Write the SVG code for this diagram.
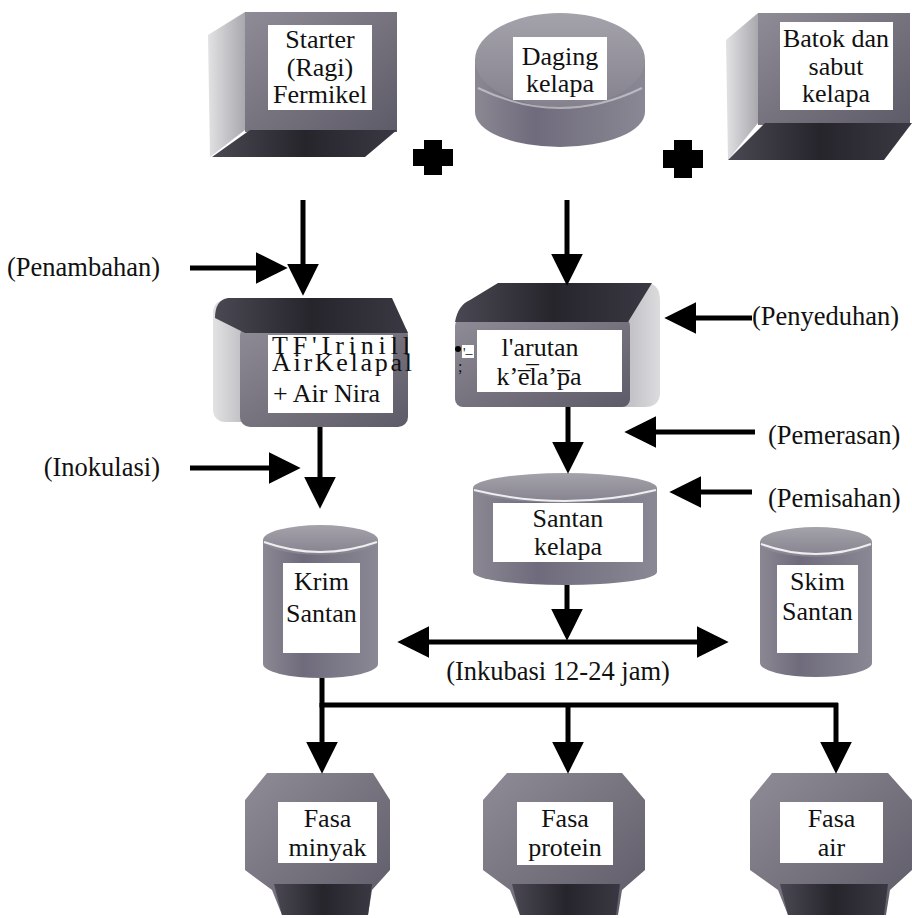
<svg xmlns="http://www.w3.org/2000/svg" width="912" height="918" viewBox="0 0 912 918" font-family="'Liberation Serif', serif">
<defs>
<linearGradient id="gFrame" x1="0" y1="0" x2="1" y2="1">
<stop offset="0" stop-color="#8f8c98"/><stop offset="0.5" stop-color="#76737f"/><stop offset="1" stop-color="#5e5b68"/>
</linearGradient>
<linearGradient id="gSide" x1="0" y1="0" x2="1" y2="0">
<stop offset="0" stop-color="#e2e2e4"/><stop offset="1" stop-color="#a9a8ae"/>
</linearGradient>
<linearGradient id="gSideR" x1="0" y1="0" x2="1" y2="0">
<stop offset="0" stop-color="#a9a8ae"/><stop offset="1" stop-color="#dcdcdf"/>
</linearGradient>
<linearGradient id="gDark" x1="0" y1="0" x2="1" y2="0">
<stop offset="0" stop-color="#4a4852"/><stop offset="0.5" stop-color="#26252c"/><stop offset="1" stop-color="#3a3842"/>
</linearGradient>
<linearGradient id="gCyl" x1="0" y1="0" x2="1" y2="0">
<stop offset="0" stop-color="#8b8893"/><stop offset="0.35" stop-color="#6f6b7c"/><stop offset="1" stop-color="#8a8894"/>
</linearGradient>
<linearGradient id="gTop" x1="0" y1="0" x2="0" y2="1">
<stop offset="0" stop-color="#a4a2aa"/><stop offset="1" stop-color="#85828e"/>
</linearGradient>
<marker id="ah" markerUnits="userSpaceOnUse" markerWidth="32" markerHeight="32" viewBox="0 0 30 30" refX="20" refY="15" orient="auto-start-reverse">
<path d="M0,0 L30,15 L0,30 Z" fill="#000"/>
</marker>
<style>
text{font-family:'Liberation Serif','Times New Roman',serif;font-size:26px;fill:#111;}
.c{text-anchor:middle;}
.e{text-anchor:end;}
.lbl{font-size:26.5px;}
.win{fill:#fff;}
.frame{fill:url(#gFrame);}
.side{fill:url(#gSide);}
.sider{fill:url(#gSideR);}
.dark{fill:url(#gDark);}
.cyl{fill:url(#gCyl);}
.ctop{fill:url(#gTop);}
.rim{fill:none;stroke:#eeeef0;stroke-width:2;}
.ln{fill:none;stroke:#000;stroke-width:5;}
.arr{fill:none;stroke:#000;stroke-width:5;marker-end:url(#ah);}
.dbl{fill:none;stroke:#000;stroke-width:5;marker-end:url(#ah);marker-start:url(#ah);}
.plus{fill:#000;}
</style>
</defs>
<rect width="912" height="918" fill="#fff"/>

<g id="starter">
<path class="side" d="M245,12 L208,35 L210,157 L245,130 Z"/>
<rect class="frame" x="245" y="12" width="152" height="120"/>
<path class="dark" d="M250,130 L397,130 L365,157 L212,157 Z"/>
<rect class="win" x="268" y="25" width="104" height="85"/>
<text class="c" x="320" y="48">Starter</text>
<text class="c" x="320" y="76">(Ragi)</text>
<text class="c" x="320" y="103">Fermikel</text>
</g>

<g id="daging">
<ellipse class="cyl" cx="560" cy="112" rx="85" ry="35"/>
<rect class="cyl" x="475" y="60" width="170" height="52"/>
<ellipse class="ctop" cx="560" cy="60" rx="85" ry="47"/>
<path class="rim" d="M478,88 Q560,128 642,88" stroke-opacity="0.5"/>
<rect class="win" x="513" y="37" width="94" height="63"/>
<text class="c" x="560" y="65">Daging</text>
<text class="c" x="560" y="92">kelapa</text>
</g>

<g id="batok">
<path class="side" d="M758,13 L726,40 L728,160 L758,123 Z"/>
<rect class="frame" x="758" y="13" width="152" height="112"/>
<path class="dark" d="M765,123 L912,123 L884,160 L728,160 Z"/>
<rect class="win" x="780" y="22" width="113" height="88"/>
<text class="c" x="836" y="47">Batok dan</text>
<text class="c" x="836" y="75">sabut</text>
<text class="c" x="836" y="102">kelapa</text>
</g>

<g id="plus1"><path class="plus" d="M424,140 H442 V149 H453 V166 H442 V175 H424 V166 H413 V149 H424 Z"/></g>
<g id="plus2"><path class="plus" d="M674,140 H692 V150 H703 V168 H692 V178 H674 V168 H663 V150 H674 Z"/></g>

<g id="airkelapa">
<rect class="side" x="213" y="300" width="50" height="122" rx="12"/>
<rect class="frame" x="240" y="325" width="168" height="102" rx="10"/>
<path class="dark" d="M228,298 L392,298 L408,333 L245,333 L215,318 Q215,300 228,298 Z"/>
<rect class="win" x="268" y="335" width="125" height="78"/>
<text x="272" y="354" textLength="138" lengthAdjust="spacing">TF'Irinill</text>
<text x="272" y="371" textLength="140" lengthAdjust="spacing">AirKelapal</text>
<text x="273" y="402">+ Air Nira</text>
</g>

<g id="larutan">
<path class="sider" d="M600,283 L648,283 Q660,285 660,300 L660,395 Q658,407 645,407 L610,407 Z"/>
<rect class="frame" x="455" y="318" width="175" height="89" rx="8"/>
<path class="dark" d="M498,283 L652,283 L628,322 L455,322 Q458,305 470,300 Z"/>
<rect class="win" x="477" y="330" width="145" height="62"/>
<text class="c" x="540" y="356">l'arutan</text>
<text class="c" x="539" y="385">k’e̅l̅a’p̅a</text>
<circle cx="458" cy="349" r="3" fill="#000"/>
<rect class="win" x="462" y="345" width="12" height="13"/>
<text x="463" y="358" style="font-size:14px">'–</text>
<text x="458" y="372" style="font-size:16px">;</text>
</g>

<g id="santankelapa">
<ellipse class="cyl" cx="565" cy="572" rx="92" ry="13"/>
<rect class="cyl" x="473" y="488" width="184" height="84"/>
<ellipse class="ctop" cx="565" cy="488" rx="92" ry="15"/>
<path class="rim" d="M474,490 Q565,512 656,490"/>
<rect class="win" x="493" y="503" width="150" height="59"/>
<text class="c" x="568" y="527">Santan</text>
<text class="c" x="568" y="555">kelapa</text>
</g>

<g id="krimsantan">
<ellipse class="cyl" cx="320.5" cy="664" rx="57.5" ry="14"/>
<rect class="cyl" x="263" y="540" width="115" height="124"/>
<ellipse class="ctop" cx="320.5" cy="540" rx="57.5" ry="15"/>
<path class="rim" d="M264,542 Q320,562 377,542"/>
<rect class="win" x="283" y="563" width="77" height="90"/>
<text class="c" x="321.5" y="590">Krim</text>
<text class="c" x="321.5" y="622">Santan</text>
</g>

<g id="skimsantan">
<ellipse class="cyl" cx="816" cy="663" rx="56" ry="14"/>
<rect class="cyl" x="760" y="542" width="112" height="121"/>
<ellipse class="ctop" cx="816" cy="542" rx="56" ry="15"/>
<path class="rim" d="M761,544 Q816,564 871,544"/>
<rect class="win" x="777" y="565" width="81" height="88"/>
<text class="c" x="817.5" y="590">Skim</text>
<text class="c" x="817.5" y="620">Santan</text>
</g>

<g id="fasaminyak">
<path class="frame" d="M267,773 L373,773 L390,800 L390,870 L372,890 L368,915 L282,915 L272,890 L245,870 L245,800 Z"/>
<path class="dark" d="M274,884 L372,884 L368,915 L282,915 Z"/>
<rect class="win" x="278" y="802" width="99" height="61"/>
<text class="c" x="327.5" y="827">Fasa</text>
<text class="c" x="327.5" y="856">minyak</text>
</g>

<g id="fasaprotein">
<path class="frame" d="M507,773 L622,773 L645,800 L645,870 L622,890 L618,915 L520,915 L510,890 L483,870 L483,800 Z"/>
<path class="dark" d="M512,884 L620,884 L616,915 L520,915 Z"/>
<rect class="win" x="517" y="802" width="96" height="63"/>
<text class="c" x="565" y="827">Fasa</text>
<text class="c" x="565" y="856">protein</text>
</g>

<g id="fasaair">
<path class="frame" d="M772,773 L888,773 L912,800 L912,870 L890,890 L886,915 L788,915 L778,890 L750,870 L750,800 Z"/>
<path class="dark" d="M780,884 L888,884 L884,915 L788,915 Z"/>
<rect class="win" x="780" y="802" width="103" height="61"/>
<text class="c" x="831.5" y="827">Fasa</text>
<text class="c" x="831.5" y="856">air</text>
</g>

<g id="connectors">
<path class="arr" d="M303,200 V285"/>
<path class="arr" d="M190,268 H277"/>
<path class="arr" d="M567,200 V275"/>
<path class="arr" d="M752,318 H675"/>
<path class="arr" d="M568,407 V463"/>
<path class="arr" d="M755,432 H635"/>
<path class="arr" d="M752,492 H680"/>
<path class="arr" d="M320,427 V498"/>
<path class="arr" d="M190,468 H290"/>
<path class="arr" d="M567,585 V630"/>
<path class="dbl" d="M408,642 H718"/>
<path class="ln" d="M322,678 V705 H838"/>
<path class="arr" d="M322,703 V763"/>
<path class="arr" d="M568,703 V763"/>
<path class="arr" d="M836,703 V763"/>
</g>

<g id="labels">
<text class="e lbl" x="160" y="276">(Penambahan)</text>
<text class="e lbl" x="160" y="476">(Inokulasi)</text>
<text class="lbl" x="752" y="325">(Penyeduhan)</text>
<text class="lbl" x="768" y="444">(Pemerasan)</text>
<text class="lbl" x="768" y="507">(Pemisahan)</text>
<text class="c lbl" x="558" y="680">(Inkubasi 12-24 jam)</text>
</g>
</svg>
